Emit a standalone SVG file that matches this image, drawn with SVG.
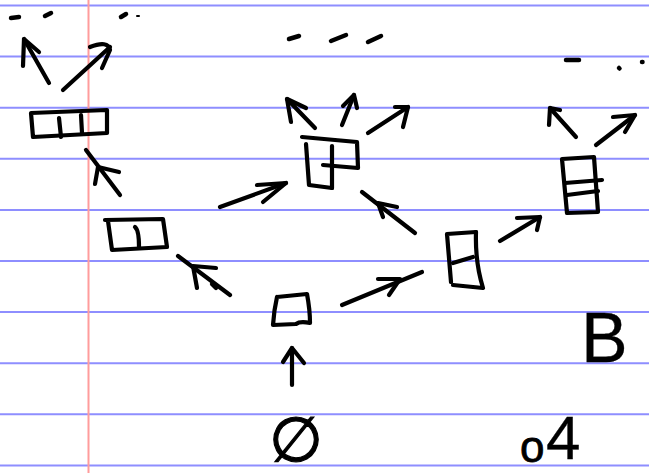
<svg xmlns="http://www.w3.org/2000/svg" width="649" height="473" viewBox="0 0 649 473">
<style>
.ink{fill:none;stroke:#000;stroke-width:4.2;stroke-linecap:round;stroke-linejoin:round}
.dash{fill:none;stroke:#000;stroke-width:4.5;stroke-linecap:round}
.rule{stroke:#8e8eff;stroke-width:2}
.margin{stroke:#ff9c9c;stroke-width:2}
.hand{font-family:"Liberation Sans","DejaVu Sans",sans-serif;fill:#000}
</style>
<rect width="649" height="473" fill="#fff"/>
<g id="paper">
<line class="rule" x1="0" y1="5.5" x2="649" y2="5.5"/>
<line class="rule" x1="0" y1="56.6" x2="649" y2="56.6"/>
<line class="rule" x1="0" y1="107.7" x2="649" y2="107.7"/>
<line class="rule" x1="0" y1="158.8" x2="649" y2="158.8"/>
<line class="rule" x1="0" y1="209.9" x2="649" y2="209.9"/>
<line class="rule" x1="0" y1="261" x2="649" y2="261"/>
<line class="rule" x1="0" y1="312.1" x2="649" y2="312.1"/>
<line class="rule" x1="0" y1="363.2" x2="649" y2="363.2"/>
<line class="rule" x1="0" y1="414.3" x2="649" y2="414.3"/>
<line class="rule" x1="0" y1="465.4" x2="649" y2="465.4"/>
<line class="margin" x1="88.5" y1="0" x2="88.5" y2="473"/>
</g>
<g id="ellipses">
<path class="dash" d="M11,18 L19,17"/>
<path class="dash" d="M45,16 L51,13"/>
<path class="dash" d="M121,17 L126,14"/>
<path class="dash" d="M137,16 L139,16" style="stroke-width:2"/>
<path class="dash" d="M289,39 L299,36"/>
<path class="dash" d="M331,41 L346,35"/>
<path class="dash" d="M368,42 L381,36"/>
<path class="dash" d="M566,60 L579,60"/>
<path class="dash" d="M619,68 L619.5,68.5"/>
<path class="dash" d="M642,62 L642.5,62"/>
</g>
<g id="node-root">
<path class="ink" d="M277,297 L307,294 Q310,310 310,323 Q300,321 296,324 L273,325 Q274,310 277,297"/>
</g>
<g id="node-b">
<path class="ink" d="M105,220 L163,219 L167,247 L112,250 L108,221"/>
<path class="ink" d="M135,227 Q139,230 139,247"/>
</g>
<g id="node-a">
<path class="ink" d="M31,113 L107,110 L107,133 L33,137 Z"/>
<path class="ink" d="M59,118 L61,137"/>
<path class="ink" d="M81,115 L82,133"/>
</g>
<g id="node-c">
<path class="ink" d="M302,137 L357,142 L358,168 L323,165"/>
<path class="ink" d="M332,146 L332,188"/>
<path class="ink" d="M306,144 L309,185 L332,188"/>
</g>
<g id="node-d">
<path class="ink" d="M476,232 L447,234 L451,282"/>
<path class="ink" d="M476,232 Q475,262 483,288 L453,285"/>
<path class="ink" d="M453,263 L473,257"/>
</g>
<g id="node-e">
<path class="ink" d="M562,159 L594,157 L598,212 L567,213 Z"/>
<path class="ink" d="M565,183 L602,180"/>
<path class="ink" d="M567,195 L598,191"/>
</g>
<g id="connectors">
<path class="ink" d="M230,295 L178,256"/><path class="ink" d="M197,288 L193,266 L216,268"/><path class="ink" d="M212,284 L216,288"/>
<path class="ink" d="M342,305 L422,272"/><path class="ink" d="M378,279 L400,279 L389,295"/>
<path class="ink" d="M220,207 L286,183"/><path class="ink" d="M257,185 L286,183 L263,202"/>
<path class="ink" d="M415,233 L362,192"/><path class="ink" d="M383,217 L378,203 L397,207"/>
<path class="ink" d="M500,241 L540,217"/><path class="ink" d="M517,218 L540,217 L537,230"/>
<path class="ink" d="M292,385 L292,348"/><path class="ink" d="M283,362 L292,348 L304,363"/>
<path class="ink" d="M120,195 L86,150"/><path class="ink" d="M95,184 L98,167 L119,172"/>
<path class="ink" d="M49,83 L24,39"/><path class="ink" d="M23,66 L24,39 L39,52"/>
<path class="ink" d="M63,90 L110,47"/><path class="ink" d="M90,47 Q108,40 110,50 L102,68"/>
<path class="ink" d="M315,128 L287,99"/><path class="ink" d="M291,122 L287,99 L306,108"/>
<path class="ink" d="M342,125 L354,95"/><path class="ink" d="M343,106 L354,95 L357,108"/>
<path class="ink" d="M368,133 L408,107"/><path class="ink" d="M395,107 L408,107 L403,127"/>
<path class="ink" d="M576,137 L550,108"/><path class="ink" d="M549,125 L550,108 L560,110"/>
<path class="ink" d="M596,145 L635,115"/><path class="ink" d="M613,117 L635,115 L625,132"/>
</g>
<g id="labels">
<text class="hand" x="296" y="461" font-size="62" text-anchor="middle" font-family="DejaVu Sans, sans-serif" stroke="#000" stroke-width="1.2">∅</text>
<text class="hand" x="581" y="362" font-size="70" stroke="#000" stroke-width="0.3">B</text>
<text class="hand" x="520" y="462" font-size="44" stroke="#000" stroke-width="0.8">o</text>
<text class="hand" x="546" y="459" font-size="62" stroke="#000" stroke-width="0.3">4</text>
</g>
</svg>
